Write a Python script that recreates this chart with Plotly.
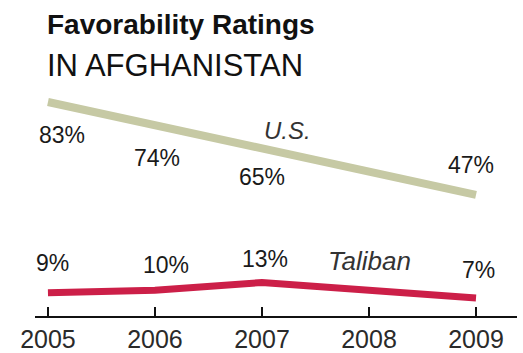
import plotly.graph_objects as go

years = [2005, 2006, 2007, 2008, 2009]
us_years = [2005, 2006, 2007, 2009]
us_values = [83, 74, 65, 47]
tal_years = [2005, 2006, 2007, 2009]
tal_values = [9, 10, 13, 7]
us_label_shift = [(14, -33), (2, -33), (0, -29), (-5, 30)]
tal_label_shift = [(5, 30), (11, 25), (3, 23), (2, 28)]

FONT = "Liberation Sans"

fig = go.Figure()
fig.add_trace(go.Scatter(x=us_years, y=us_values, mode="lines",
                         line=dict(color="#c6c9a4", width=8), hoverinfo="skip"))
fig.add_trace(go.Scatter(x=tal_years, y=tal_values, mode="lines",
                         line=dict(color="#cc1f48", width=7), hoverinfo="skip"))

ann = []
for x, v, (dx, dy) in zip(us_years, us_values, us_label_shift):
    ann.append(dict(x=x, y=v, text=f"{v}%", showarrow=False, xshift=dx, yshift=dy,
                    font=dict(family=FONT, size=23, color="#1a1a1a")))
for x, v, (dx, dy) in zip(tal_years, tal_values, tal_label_shift):
    ann.append(dict(x=x, y=v, text=f"{v}%", showarrow=False, xshift=dx, yshift=dy,
                    font=dict(family=FONT, size=23, color="#1a1a1a")))
ann.append(dict(x=2007.24, y=71.8, text="<i>U.S.</i>", showarrow=False,
                font=dict(family=FONT, size=24, color="#333333")))
ann.append(dict(x=2008.0, y=21.3, text="<i>Taliban</i>", showarrow=False,
                font=dict(family=FONT, size=26, color="#333333")))
ann.append(dict(xref="paper", yref="paper", x=0.02, y=1.309, xanchor="left", yanchor="middle",
                text="<b>Favorability Ratings</b>", showarrow=False,
                font=dict(family=FONT, size=28, color="#111111")))
ann.append(dict(xref="paper", yref="paper", x=0.02, y=1.124, xanchor="left", yanchor="middle",
                text="IN AFGHANISTAN", showarrow=False,
                font=dict(family=FONT, size=31, color="#111111")))

fig.update_layout(
    width=523, height=353,
    margin=dict(l=35, r=6, t=93, b=37),
    paper_bgcolor="white", plot_bgcolor="white",
    showlegend=False,
    annotations=ann,
    xaxis=dict(range=[2004.879, 2009.383], tickvals=years, ticktext=[str(y) for y in years],
               showgrid=False, zeroline=False, showline=True, linecolor="#111111", linewidth=2,
               ticks="inside", ticklen=9, tickwidth=2, tickcolor="#111111",
               automargin=False,
               tickfont=dict(family=FONT, size=25, color="#2a2a2a")),
    yaxis=dict(range=[0, 86.5], visible=False, showgrid=False, zeroline=False, automargin=False),
)

fig.write_html("out.html")
